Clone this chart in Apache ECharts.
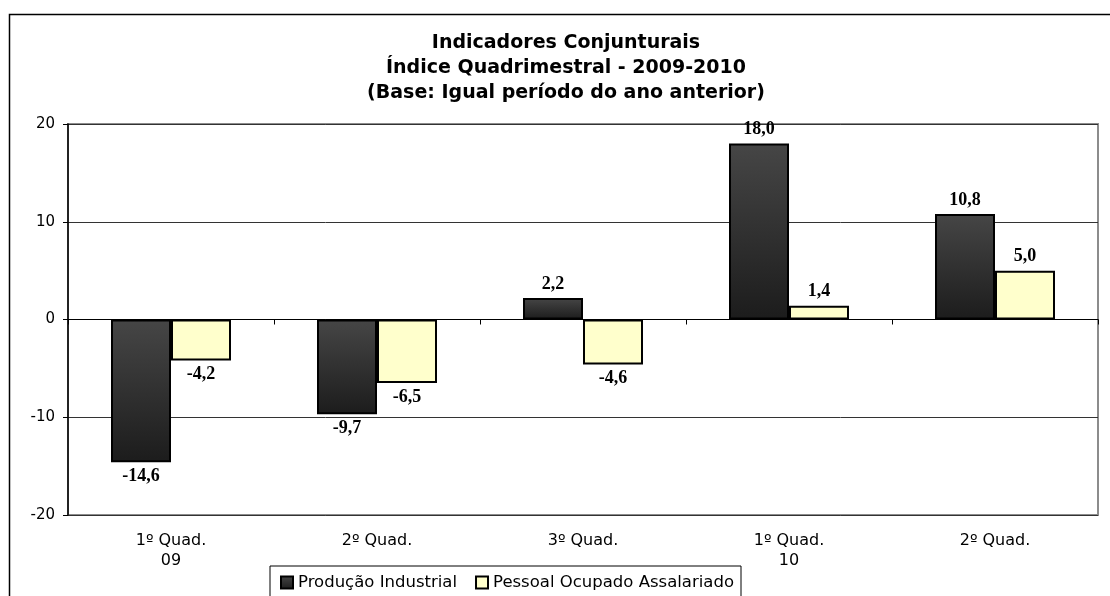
<!DOCTYPE html>
<html><head><meta charset="utf-8">
<script src="https://cdn.jsdelivr.net/npm/echarts@6/dist/echarts.min.js"></script>
<style>html,body{margin:0;padding:0;background:#fff}#c{width:1110px;height:596px}</style>
</head><body><div id="c"></div>
<script>
const categories = ['1º Quad.\n09', '2º Quad.', '3º Quad.', '1º Quad.\n10', '2º Quad.'];
const producao = [-14.6, -9.7, 2.2, 18.0, 10.8];
const pessoal = [-4.2, -6.5, -4.6, 1.4, 5.0];
const seriesNames = ['Produção Industrial', 'Pessoal Ocupado Assalariado'];
const titleLines = ['Indicadores Conjunturais', 'Índice Quadrimestral - 2009-2010', '(Base: Igual período do ano anterior)'];

function items(arr) {
  return arr.map(v => ({ value: v, label: { position: v < 0 ? 'bottom' : 'top' } }));
}
const labelStyle = {
  show: true, distance: 5, color: '#000', fontFamily: 'Liberation Serif', fontWeight: 'bold', fontSize: 18,
  formatter: p => p.value.toFixed(1).replace('.', ',')
};
const chart = echarts.init(document.getElementById('c'));
chart.setOption({
  animation: false,
  backgroundColor: '#fff',
  graphic: [{
    type: 'rect', shape: { x: 9.5, y: 14.5, width: 1200, height: 700 },
    style: { fill: 'none', stroke: '#000', lineWidth: 1.5 }, z: -10
  }],
  title: {
    text: titleLines.join('\n'), left: 566, top: 31, textAlign: 'center', padding: 0,
    textStyle: { fontFamily: 'DejaVu Sans', fontWeight: 'bold', fontSize: 19, lineHeight: 25, color: '#000' }
  },
  legend: {
    data: seriesNames, left: 270, top: 566, padding: [8, 7, 12, 10], itemGap: 18,
    borderColor: '#000', borderWidth: 1, icon: 'rect', itemWidth: 12, itemHeight: 12,
    textStyle: { fontFamily: 'DejaVu Sans', fontSize: 16.5, color: '#000', padding: [0, 0, 0, 0] }
  },
  grid: { left: 68, right: 12, top: 124, bottom: 81, show: true, borderColor: '#8c8c8c', borderWidth: 2 },
  xAxis: [{
    type: 'category', data: categories,
    axisLine: { onZero: true, lineStyle: { color: '#000', width: 1 } },
    axisTick: { show: true, length: 5, lineStyle: { color: '#000' } },
    axisLabel: { show: false }
  }, {
    type: 'category', data: categories, position: 'bottom',
    axisLine: { show: false }, axisTick: { show: false },
    axisLabel: { show: true, margin: 16, color: '#000', fontFamily: 'DejaVu Sans', fontSize: 16, lineHeight: 20 }
  }],
  yAxis: {
    type: 'value', min: -20, max: 20, interval: 10,
    axisLine: { show: true, lineStyle: { color: '#000', width: 1.5 } },
    axisTick: { show: true, length: 5, lineStyle: { color: '#000' } },
    axisLabel: { margin: 13, color: '#000', fontFamily: 'DejaVu Sans', fontSize: 15 },
    splitLine: { lineStyle: { color: '#333', width: 1 } }
  },
  series: [{
    name: seriesNames[0], type: 'bar', xAxisIndex: 0, barWidth: 60, barGap: '0%',
    data: items(producao),
    itemStyle: {
      color: new echarts.graphic.LinearGradient(0, 0, 0, 1, [{ offset: 0, color: '#464646' }, { offset: 1, color: '#1c1c1c' }]),
      borderColor: '#000', borderWidth: 2
    },
    label: labelStyle
  }, {
    name: seriesNames[1], type: 'bar', xAxisIndex: 0, barWidth: 60, barGap: '0%',
    data: items(pessoal),
    itemStyle: { color: '#ffffcc', borderColor: '#000', borderWidth: 2 },
    label: labelStyle
  }]
});
</script></body></html>
